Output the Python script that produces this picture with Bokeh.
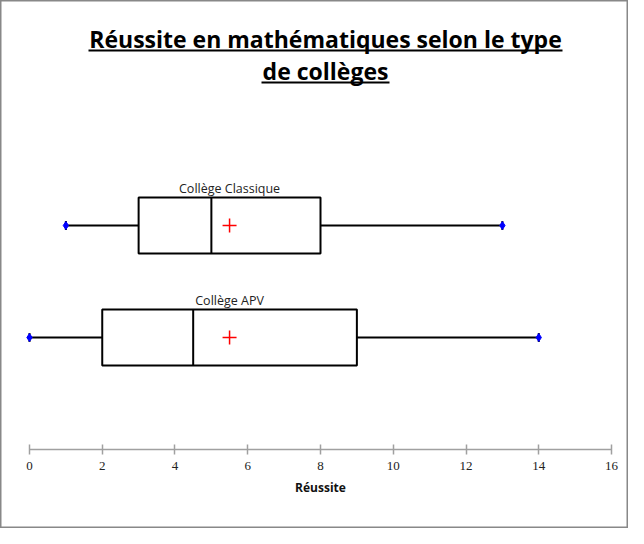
from bokeh.plotting import figure
from bokeh.models import Range1d, LinearAxis, FixedTicker, Label, BoxAnnotation, ColumnDataSource
from bokeh.embed import file_html
from bokeh.resources import INLINE

# data
groups = ["Collège Classique", "Collège APV"]
ypos = [2, 1]
mins = [1, 0]
q1 = [3, 2]
medians = [5, 4.5]
q3 = [8, 9]
maxs = [13, 14]
means = [5.5, 5.5]
ticks = [0, 2, 4, 6, 8, 10, 12, 14, 16]

W, H = 628, 528
p = figure(width=W, height=H, output_backend="svg", toolbar_location=None,
           x_range=Range1d(-0.797, 16.467), y_range=Range1d(-0.705, 4.009),
           min_border=0, min_border_left=0, min_border_right=0,
           min_border_top=0, min_border_bottom=0)
p.xaxis.visible = False
p.yaxis.visible = False
p.grid.visible = False
p.outline_line_color = "#888888"
p.outline_line_width = 2
p.background_fill_color = "white"
p.border_fill_color = "white"

src = ColumnDataSource(dict(y=ypos, lo=mins, q1=q1, med=medians, q3=q3, hi=maxs,
                            mean=means, name=groups,
                            top=[v + 0.25 for v in ypos],
                            bot=[v - 0.25 for v in ypos]))

# whiskers
p.segment(x0="lo", y0="y", x1="q1", y1="y", source=src, line_color="black", line_width=2)
p.segment(x0="q3", y0="y", x1="hi", y1="y", source=src, line_color="black", line_width=2)
# end caps
p.scatter(x="lo", y="y", source=src, marker="dash", angle=1.5708, size=9, line_color="black", line_width=2)
p.scatter(x="hi", y="y", source=src, marker="dash", angle=1.5708, size=9, line_color="black", line_width=2)
p.scatter(x="lo", y="y", source=src, marker="diamond", size=8, fill_color="blue", line_color="blue")
p.scatter(x="hi", y="y", source=src, marker="diamond", size=8, fill_color="blue", line_color="blue")
# boxes
p.hbar(y="y", left="q1", right="q3", height=0.5, source=src, fill_color="white",
       line_color="black", line_width=2)
# median
p.segment(x0="med", y0="bot", x1="med", y1="top", source=src, line_color="black", line_width=2)
# mean
p.scatter(x="mean", y="y", source=src, marker="cross", size=14, color="#ff0000", line_width=1.5)
# group labels (centred above the mean)
p.text(x="mean", y="top", text="name", source=src, text_align="center", text_baseline="bottom",
       y_offset=-1, text_font_size="12.5px", text_color="#222222",
       text_font={"value": "Open Sans"})

# axis inside the frame
ax = LinearAxis(fixed_location=0, ticker=FixedTicker(ticks=ticks), bounds=(0, 16),
                axis_label="Réussite",
                axis_line_color="#a0a0a0", axis_line_width=1.5,
                major_tick_line_color="#a0a0a0", major_tick_line_width=1.5,
                major_tick_in=5, major_tick_out=5,
                minor_tick_line_color=None,
                major_label_text_font="Liberation Serif",
                major_label_text_font_size="13px",
                major_label_text_color="#222222",
                major_label_standoff=7,
                axis_label_text_font="Open Sans",
                axis_label_text_font_style="bold",
                axis_label_text_font_size="12px",
                axis_label_text_color="#111111",
                axis_label_standoff=6)
p.add_layout(ax, "below")

# title with underline
line1 = "Réussite en mathématiques selon le type"
line2 = "de collèges"
for txt, cx, mid in [(line1, 325, 38), (line2, 325, 70)]:
    p.add_layout(Label(x=cx, y=H - mid, x_units="screen", y_units="screen", text=txt,
                       text_align="center", text_baseline="middle",
                       text_font="Open Sans", text_font_style="bold",
                       text_font_size="23px", text_color="black"))
for l, r, yy in [(88, 562, 50), (261, 389, 82)]:
    p.add_layout(BoxAnnotation(left=l, right=r, top=H - yy + 1, bottom=H - yy - 1,
                               left_units="screen", right_units="screen", top_units="screen",
                               bottom_units="screen", fill_color="black", fill_alpha=1,
                               line_color=None))

open("out.html", "w").write(file_html(p, INLINE))
